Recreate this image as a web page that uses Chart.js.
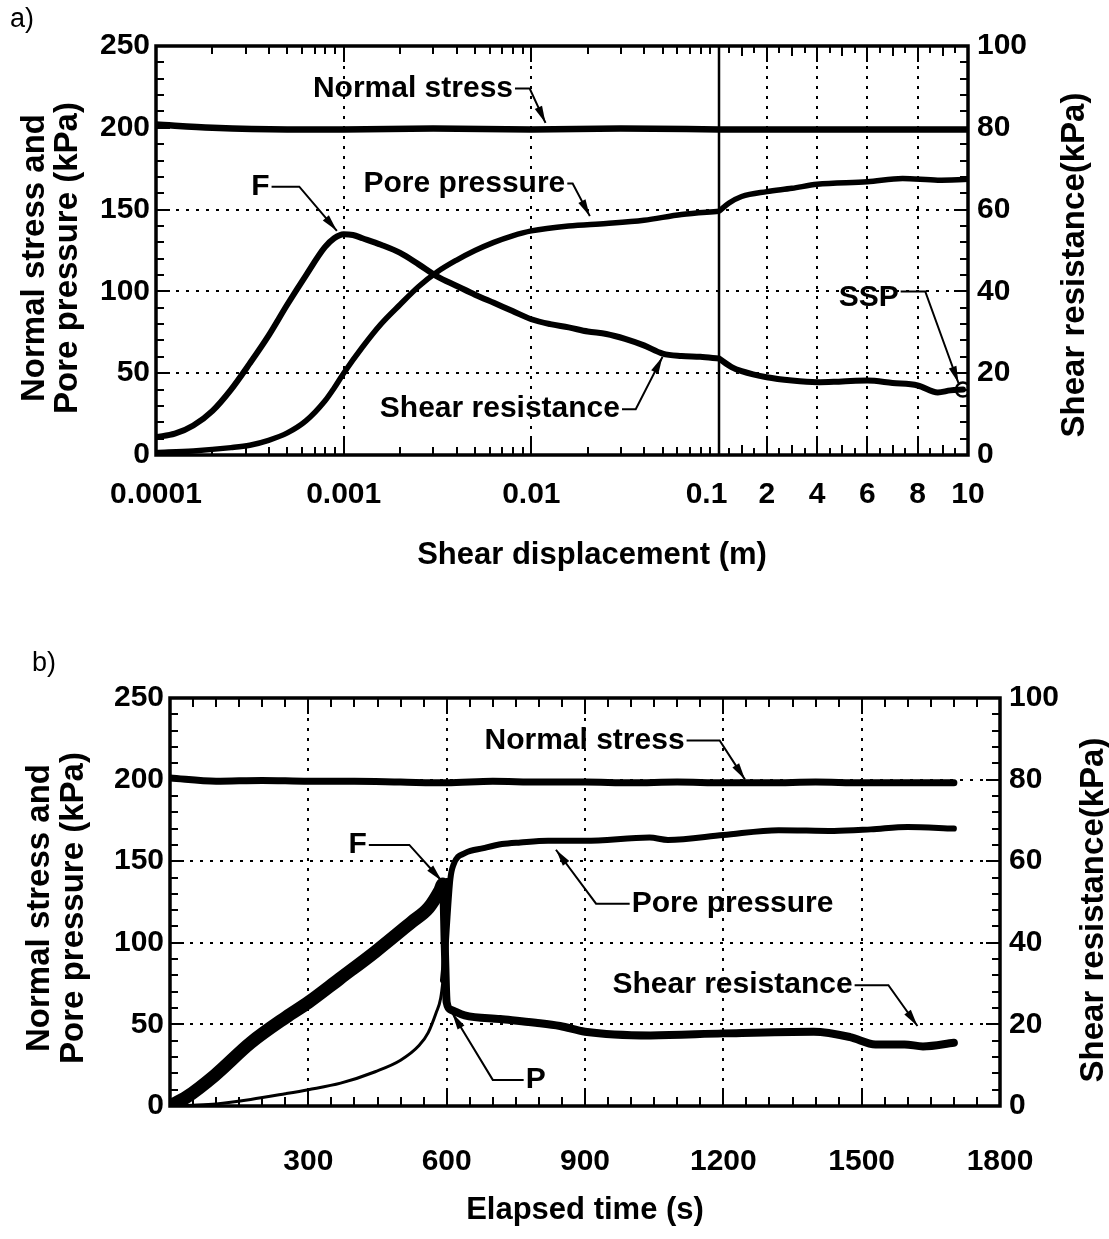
<!DOCTYPE html>
<html>
<head>
<meta charset="utf-8">
<script src="https://cdn.jsdelivr.net/npm/chart.js@4.4.0/dist/chart.umd.min.js"></script>
<style>
  html, body { margin: 0; padding: 0; background: #fff; }
  .panel { position: absolute; left: 0; }
  #panelA { top: 0; }
  #panelB { top: 620px; }
</style>
</head>
<body>
<div class="panel" id="panelA"><canvas id="chartA" width="1109" height="600"></canvas></div>
<div class="panel" id="panelB"><canvas id="chartB" width="1109" height="619"></canvas></div>
<script>
const FONT = "'Liberation Sans', Arial, sans-serif";

// ---------- a) shear displacement (m) ----------
const dispTicksLog = [0.0001, 0.001, 0.01, 0.1];
const dispTickLabelsLog = ["0.0001", "0.001", "0.01", "0.1"];
const dispTicksLin = [2, 4, 6, 8, 10];

// normal stress and pore pressure in kPa (left axis)
const normalA_x = [0.0001, 0.0002, 0.0005, 0.001, 0.003, 0.01, 0.03, 0.1, 1, 3, 5, 7, 10];
const normalA_y = [202, 200, 199, 199, 199.5, 199, 199.5, 199, 199, 199, 199, 199, 199];

const poreA_x = [0.0001, 0.000158, 0.000251, 0.000316, 0.000398, 0.000501, 0.000631, 0.000794, 0.00089, 0.001, 0.00126, 0.00158, 0.002, 0.00251, 0.00316, 0.00398, 0.00501, 0.00631, 0.00794, 0.01, 0.0158, 0.0251, 0.0398, 0.0631, 0.1, 0.5, 1, 2, 3, 4, 6, 7.4, 8.8, 10];
const poreA_y = [1.5, 2.5, 4.5, 6, 9, 13.5, 21, 33, 41, 50, 66, 80, 92, 103, 112, 119, 125, 130, 134, 137, 140, 141.5, 143.5, 147, 149, 154, 158, 161, 163, 165.5, 167, 169, 168, 168.5];

// shear resistance in kPa (right axis)
const shearA_x = [0.0001, 0.000126, 0.000158, 0.0002, 0.000251, 0.000316, 0.000398, 0.000501, 0.000631, 0.000794, 0.00089, 0.001, 0.00112, 0.00126, 0.00158, 0.002, 0.00251, 0.00316, 0.00398, 0.00501, 0.00631, 0.00794, 0.01, 0.0126, 0.0158, 0.02, 0.0251, 0.0316, 0.0398, 0.0501, 0.0631, 0.0794, 0.1, 0.6, 1, 2, 3, 4, 5, 6, 7, 8, 8.8, 9.3, 9.8];
const shearA_y = [4.4, 5.2, 7.2, 10.8, 16, 22.4, 29.2, 36.8, 44, 50.8, 53, 54, 53.8, 53, 51.4, 49.4, 46.6, 43.6, 41.4, 39.2, 37.2, 35.2, 33.2, 32, 31.2, 30.2, 29.6, 28.4, 26.8, 24.8, 24.2, 24, 23.6, 21.5, 20.5, 19, 18.2, 17.8, 18, 18.2, 17.6, 17, 15.3, 15.8, 16];

const sspA_x = [9.8];
const sspA_y = [16];

// ---------- b) elapsed time (s) ----------
const timeTicks = [0, 300, 600, 900, 1200, 1500, 1800];

const normalB_t = [0, 100, 200, 300, 400, 500, 600, 700, 800, 900, 1000, 1100, 1200, 1300, 1400, 1500, 1600, 1700];
const normalB_y = [201, 199, 199.5, 199, 199, 198.5, 198, 199, 198.5, 198.5, 198, 198.5, 198, 198, 198.5, 198, 198, 198];

const poreB_t = [0, 50, 100, 175, 250, 300, 370, 445, 500, 540, 560, 577, 587, 592, 596, 600, 608, 615, 640, 680, 720, 760, 820, 900, 1040, 1080, 1200, 1320, 1440, 1520, 1600, 1700];
const poreB_y = [0, 0.5, 1.3, 4, 7.5, 10, 14, 21, 28, 37, 45, 57, 66, 77, 90, 108, 139, 148, 155, 158, 160.5, 161.5, 162.5, 162.5, 164.5, 163, 166, 169, 168.5, 169.5, 171, 170];

const shearB_t = [0, 36, 97, 175, 252, 300, 368, 445, 523, 561, 585, 592, 596, 600, 609, 639, 716, 793, 846, 900, 1042, 1200, 1396, 1475, 1530, 1593, 1633, 1700];
const shearB_y = [0, 2.2, 7.5, 15.5, 21.8, 25.4, 31.2, 37.8, 45, 48.6, 52.8, 54.4, 38.8, 25.4, 23.6, 22.2, 21.3, 20.4, 19.6, 18.2, 17.3, 17.8, 18.2, 16.9, 15.1, 15.1, 14.6, 15.5];

Chart.defaults.font.family = FONT;
Chart.defaults.color = "#000";

function part(xs, ys, lo, hi) {
  const out = [];
  xs.forEach((x, i) => {
    if (x >= lo && x <= hi) out.push({ x: x, y: ys[i] });
  });
  return out;
}

function range(from, to, step) {
  const out = [];
  for (let v = from; v <= to + 1e-9; v += step) out.push(+v.toFixed(6));
  return out;
}

function lineSet(data, xAxis, yAxis, width) {
  return {
    data: data,
    xAxisID: xAxis,
    yAxisID: yAxis,
    borderColor: "#000",
    borderWidth: width,
    borderJoinStyle: "round",
    borderCapStyle: "round",
    pointRadius: 0,
    cubicInterpolationMode: "monotone",
    fill: false
  };
}

// inward ticks, frame, leader arrows and axis titles
const framePlugin = {
  id: "frame",
  afterDraw(chart, args, o) {
    const ctx = chart.ctx;
    const a = chart.chartArea;
    ctx.save();
    ctx.strokeStyle = "#000";
    ctx.fillStyle = "#000";
    ctx.lineWidth = 2;

    o.xTicks.forEach(t => {
      const sc = chart.scales[t.scale];
      t.values.forEach(v => {
        const px = Math.round(sc.getPixelForValue(v));
        ctx.beginPath();
        ctx.moveTo(px, a.bottom);
        ctx.lineTo(px, a.bottom - t.len);
        ctx.moveTo(px, a.top);
        ctx.lineTo(px, a.top + t.len);
        ctx.stroke();
      });
    });
    o.yTicks.forEach(t => {
      const sc = chart.scales.y;
      t.values.forEach(v => {
        const py = Math.round(sc.getPixelForValue(v));
        ctx.beginPath();
        ctx.moveTo(a.left, py);
        ctx.lineTo(a.left + t.len, py);
        ctx.moveTo(a.right, py);
        ctx.lineTo(a.right - t.len, py);
        ctx.stroke();
      });
    });

    if (o.split) {
      const px = Math.round(chart.scales[o.split].left);
      ctx.lineWidth = 2.5;
      ctx.beginPath();
      ctx.moveTo(px, a.top);
      ctx.lineTo(px, a.bottom);
      ctx.stroke();
    }

    ctx.lineWidth = 3.5;
    ctx.strokeRect(a.left, a.top, a.right - a.left, a.bottom - a.top);

    ctx.font = "bold 30px " + FONT;
    ctx.textBaseline = "middle";
    ctx.textAlign = "center";
    o.notes.forEach(n => {
      const xs = chart.scales[n.xScale];
      const ys = chart.scales.y;
      const tx = xs.getPixelForValue(n.at[0]);
      const ty = ys.getPixelForValue(n.at[1]);
      ctx.fillText(n.text, tx, ty);
      const w = ctx.measureText(n.text).width;
      const sx = n.side === "left" ? tx - w / 2 - 2 : tx + w / 2 + 2;
      const kx = xs.getPixelForValue(n.knee[0]);
      const ky = ys.getPixelForValue(n.knee[1]);
      const px = xs.getPixelForValue(n.tip[0]);
      const py = ys.getPixelForValue(n.tip[1]);
      ctx.lineWidth = 2;
      ctx.beginPath();
      ctx.moveTo(sx, ky);
      ctx.lineTo(kx, ky);
      ctx.lineTo(px, py);
      ctx.stroke();
      const ang = Math.atan2(py - ky, px - kx);
      const c = Math.cos(ang), s = Math.sin(ang);
      ctx.beginPath();
      ctx.moveTo(px, py);
      ctx.lineTo(px - 17 * c + 4 * s, py - 17 * s - 4 * c);
      ctx.lineTo(px - 17 * c - 4 * s, py - 17 * s + 4 * c);
      ctx.closePath();
      ctx.fill();
    });

    o.titles.forEach(t => {
      ctx.save();
      ctx.translate(t.x, t.y);
      ctx.rotate(t.rot || 0);
      ctx.font = (t.weight || "bold") + " " + t.size + "px " + FONT;
      ctx.textAlign = "center";
      ctx.textBaseline = "middle";
      ctx.fillText(t.text, 0, 0);
      ctx.restore();
    });
    ctx.restore();
  }
};

const tickFont = { family: FONT, size: 30, weight: "bold" };
const dotGrid = { color: "#000", lineWidth: 2, drawTicks: false };
const dotBorder = { display: false, dash: [3, 7] };

function yAxes(leftW, rightW) {
  return {
    y: {
      position: "left", min: 0, max: 250,
      afterFit: s => { s.width = leftW; },
      ticks: { stepSize: 50, font: tickFont, padding: 6 },
      grid: dotGrid, border: dotBorder
    },
    y1: {
      position: "right", min: 0, max: 100,
      afterFit: s => { s.width = rightW; },
      ticks: { stepSize: 20, font: tickFont, padding: 9 },
      grid: { display: false, drawTicks: false }, border: { display: false }
    }
  };
}

const tenSteps = range(0, 250, 10);
const fiftySteps = range(0, 250, 50);
const logMinor = [];
dispTicksLog.slice(0, 3).forEach(d => {
  for (let m = 2; m <= 9; m++) logMinor.push(m * d);
});

// ---------- chart a ----------
const scalesA = yAxes(156, 141);
scalesA.xlog = {
  type: "logarithmic", position: "bottom", stack: "disp", stackWeight: 563,
  min: 0.0001, max: 0.1,
  afterBuildTicks: s => { s.ticks = dispTicksLog.map(v => ({ value: v })); },
  afterFit: s => { s.height = 145; },
  ticks: { font: tickFont, padding: 22, maxRotation: 0, autoSkip: false,
           // the last label sits a little left of the split line
           callback: (v, i) => (i === 3 ? dispTickLabelsLog[i] + "   " : dispTickLabelsLog[i]) },
  grid: dotGrid, border: dotBorder
};
scalesA.xlin = {
  type: "linear", position: "bottom", stack: "disp", stackWeight: 249,
  min: 0.1, max: 10,
  afterBuildTicks: s => { s.ticks = dispTicksLin.map(v => ({ value: v })); },
  afterFit: s => { s.height = 145; },
  ticks: { font: tickFont, padding: 22, maxRotation: 0, autoSkip: false },
  grid: dotGrid, border: dotBorder
};

new Chart(document.getElementById("chartA"), {
  type: "line",
  data: {
    datasets: [
      lineSet(part(normalA_x, normalA_y, 0.0001, 0.1), "xlog", "y", 6.5),
      lineSet(part(normalA_x, normalA_y, 0.1, 10), "xlin", "y", 6.5),
      lineSet(part(poreA_x, poreA_y, 0.0001, 0.1), "xlog", "y", 5.5),
      lineSet(part(poreA_x, poreA_y, 0.1, 10), "xlin", "y", 5.5),
      lineSet(part(shearA_x, shearA_y, 0.0001, 0.1), "xlog", "y1", 6),
      lineSet(part(shearA_x, shearA_y, 0.1, 10), "xlin", "y1", 6),
      {
        type: "scatter",
        data: part(sspA_x, sspA_y, 0.1, 10),
        xAxisID: "xlin", yAxisID: "y1",
        pointRadius: 7, pointBackgroundColor: "#fff",
        pointBorderColor: "#000", pointBorderWidth: 2.5
      }
    ]
  },
  options: {
    responsive: false,
    animation: false,
    layout: { padding: { top: 46, left: 0, right: 0, bottom: 0 } },
    scales: scalesA,
    plugins: {
      legend: { display: false },
      tooltip: { enabled: false },
      frame: {
        split: "xlin",
        xTicks: [
          { scale: "xlog", values: logMinor, len: 8 },
          { scale: "xlog", values: dispTicksLog, len: 16 },
          { scale: "xlin", values: range(0.5, 9.5, 1), len: 7 },
          { scale: "xlin", values: [1, 3, 5, 7, 9], len: 10 },
          { scale: "xlin", values: [2, 4, 6, 8], len: 16 }
        ],
        yTicks: [
          { values: tenSteps, len: 8 },
          { values: fiftySteps, len: 14 }
        ],
        notes: [
          { text: "Normal stress", xScale: "xlog", at: [0.00234, 224], knee: [0.0098, 224], tip: [0.0119, 203], side: "right" },
          { text: "Pore pressure", xScale: "xlog", at: [0.0044, 166], knee: [0.0166, 166], tip: [0.0205, 146], side: "right" },
          { text: "F", xScale: "xlog", at: [0.00036, 164], knee: [0.00058, 164], tip: [0.00092, 137], side: "right" },
          { text: "Shear resistance", xScale: "xlog", at: [0.0068, 28], knee: [0.036, 28], tip: [0.05, 60], side: "right" },
          { text: "SSP", xScale: "xlin", at: [6.05, 96], knee: [8.3, 100], tip: [9.62, 44], side: "right" }
        ],
        titles: [
          { text: "Normal stress and", x: 35, y: 258, rot: -Math.PI / 2, size: 33 },
          { text: "Pore pressure (kPa)", x: 68, y: 258, rot: -Math.PI / 2, size: 33 },
          { text: "Shear resistance(kPa)", x: 1075, y: 265, rot: -Math.PI / 2, size: 33 },
          { text: "Shear displacement (m)", x: 592, y: 555, size: 31 },
          { text: "a)", x: 22, y: 20, size: 27, weight: "normal" }
        ]
      }
    }
  },
  plugins: [framePlugin]
});

// ---------- chart b ----------
const scalesB = yAxes(170, 109);
scalesB.x = {
  type: "linear", position: "bottom", min: 0, max: 1800,
  afterBuildTicks: s => { s.ticks = timeTicks.map(v => ({ value: v })); },
  afterFit: s => { s.height = 133; },
  ticks: { font: tickFont, padding: 38, maxRotation: 0, autoSkip: false,
           callback: v => (v === 0 ? "" : v) },
  grid: dotGrid, border: dotBorder
};

const shearB = lineSet(part(shearB_t, shearB_y, 0, 1800), "x", "y1", 8);
shearB.segment = { borderWidth: c => (c.p1.parsed.x <= 592 ? 13 : 8) };
const poreB = lineSet(part(poreB_t, poreB_y, 0, 1800), "x", "y", 6);
poreB.segment = { borderWidth: c => (c.p1.parsed.x <= 592 ? 3 : 6) };

new Chart(document.getElementById("chartB"), {
  type: "line",
  data: {
    datasets: [
      lineSet(part(normalB_t, normalB_y, 0, 1800), "x", "y", 7),
      poreB,
      shearB
    ]
  },
  options: {
    responsive: false,
    animation: false,
    layout: { padding: { top: 78, left: 0, right: 0, bottom: 0 } },
    scales: scalesB,
    plugins: {
      legend: { display: false },
      tooltip: { enabled: false },
      frame: {
        xTicks: [
          { scale: "x", values: range(0, 1800, 50), len: 9 },
          { scale: "x", values: timeTicks, len: 16 }
        ],
        yTicks: [
          { values: tenSteps, len: 8 },
          { values: fiftySteps, len: 14 }
        ],
        notes: [
          { text: "Normal stress", xScale: "x", at: [899, 224], knee: [1192, 224], tip: [1247, 200], side: "right" },
          { text: "Pore pressure", xScale: "x", at: [1220, 124], knee: [924, 124], tip: [837, 157], side: "left" },
          { text: "Shear resistance", xScale: "x", at: [1220, 74], knee: [1558, 74], tip: [1621, 49], side: "right" },
          { text: "F", xScale: "x", at: [407, 160], knee: [519, 160], tip: [589, 138], side: "right" },
          { text: "P", xScale: "x", at: [793, 16], knee: [700, 16], tip: [612, 57], side: "left" }
        ],
        titles: [
          { text: "Normal stress and", x: 40, y: 288, rot: -Math.PI / 2, size: 33 },
          { text: "Pore pressure (kPa)", x: 74, y: 288, rot: -Math.PI / 2, size: 33 },
          { text: "Shear resistance(kPa)", x: 1094, y: 290, rot: -Math.PI / 2, size: 33 },
          { text: "Elapsed time (s)", x: 585, y: 590, size: 31 },
          { text: "b)", x: 44, y: 44, size: 27, weight: "normal" }
        ]
      }
    }
  },
  plugins: [framePlugin]
});
</script>
</body>
</html>
